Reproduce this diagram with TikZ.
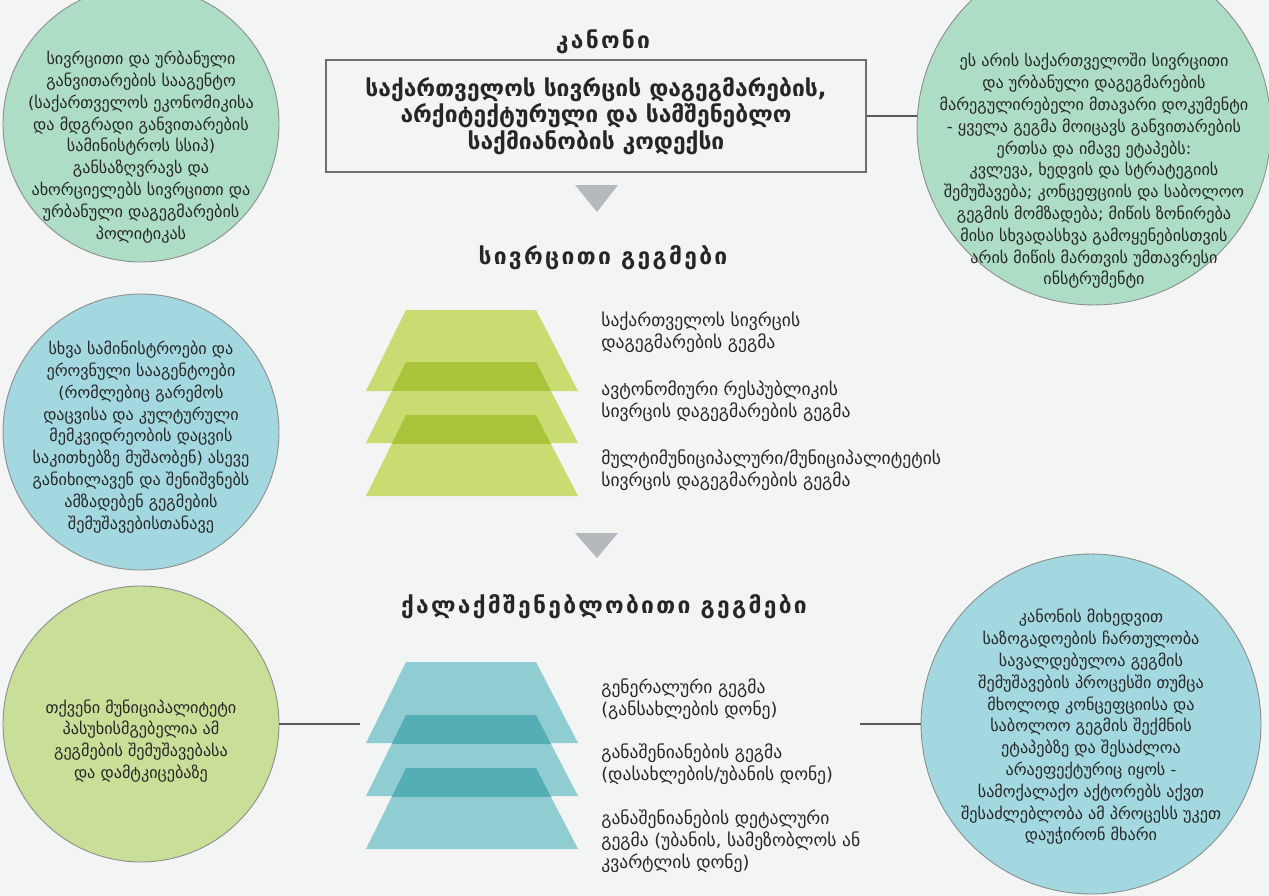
\documentclass[tikz,border=0pt]{standalone}
\usepackage{fontspec}
\setmainfont{DejaVu Sans}
\newfontfamily\headfont[LetterSpace=10]{DejaVu Sans}
\usepackage{xcolor}
\definecolor{bgpage}{HTML}{F3F5F5}
\definecolor{ink}{HTML}{262626}
\definecolor{mint}{HTML}{ADDEC5}
\definecolor{aqua}{HTML}{A3D8E0}
\definecolor{lime}{HTML}{C9DF98}
\definecolor{rimgray}{HTML}{8C8C8C}
\definecolor{boxgray}{HTML}{6E6E6E}
\definecolor{linegray}{HTML}{5A5A5A}
\definecolor{tipgray}{HTML}{B5B8BD}
\definecolor{pyrgreen}{HTML}{CADB72}
\definecolor{pyrgreendark}{HTML}{A9C33A}
\definecolor{pyrteal}{HTML}{8FCDD3}
\definecolor{pyrtealdark}{HTML}{55ADB6}

\begin{document}
\begin{tikzpicture}[x=0.02cm,y=-0.02cm]
\tikzstyle{every node}=[text=ink,inner sep=0pt];
\tikzstyle{bubble}=[draw=rimgray,line width=0.5pt,shape=circle];
\tikzstyle{note}=[font=\fontsize{9.2}{12.4}\selectfont,align=center];
\tikzstyle{head}=[font=\headfont\bfseries\fontsize{13}{15}\selectfont];
\tikzstyle{lbl}=[font=\fontsize{10}{12.4}\selectfont,align=left,anchor=west];
\tikzstyle{link}=[draw=linegray,line width=0.6pt];
\clip (0,0) rectangle (1269,896);
\fill[bgpage] (0,0) rectangle (1269,896);
% circles
\node[bubble,fill=mint,minimum size=5.52cm](agency) at (141,124) {};
\node[bubble,fill=mint,minimum size=7.08cm](codenote) at (1094,128) {};
\node[bubble,fill=aqua,minimum size=5.52cm](ministries) at (141,432) {};
\node[bubble,fill=lime,minimum size=5.52cm](munic) at (141,724) {};
\node[bubble,fill=aqua,minimum size=6.8cm](public) at (1091,724) {};
\node[note](agencytxt) at (141,147) {სივრცითი და ურბანული\\განვითარების სააგენტო\\(საქართველოს ეკონომიკისა\\და მდგრადი განვითარების\\სამინისტროს სსიპ)\\განსაზღვრავს და\\ახორციელებს სივრცითი და\\ურბანული დაგეგმარების\\პოლიტიკას};
\node[note](codenotetxt) at (1094,171) {ეს არის საქართველოში სივრცითი\\და ურბანული დაგეგმარების\\მარეგულირებელი მთავარი დოკუმენტი\\- ყველა გეგმა მოიცავს განვითარების\\ერთსა და იმავე ეტაპებს:\\კვლევა, ხედვის და სტრატეგიის\\შემუშავება; კონცეფციის და საბოლოო\\გეგმის მომზადება; მიწის ზონირება\\მისი სხვადასხვა გამოყენებისთვის\\არის მიწის მართვის უმთავრესი\\ინსტრუმენტი};
\node[note](ministriestxt) at (141,437) {სხვა სამინისტროები და\\ეროვნული სააგენტოები\\(რომლებიც გარემოს\\დაცვისა და კულტურული\\მემკვიდრეობის დაცვის\\საკითხებზე მუშაობენ) ასევე\\განიხილავენ და შენიშვნებს\\ამზადებენ გეგმების\\შემუშავებისთანავე};
\node[note](munictxt) at (141,741) {თქვენი მუნიციპალიტეტი\\პასუხისმგებელია ამ\\გეგმების შემუშავებასა\\და დამტკიცებაზე};
\node[note](publictxt) at (1091,727) {კანონის მიხედვით\\საზოგადოების ჩართულობა\\სავალდებულოა გეგმის\\შემუშავების პროცესში თუმცა\\მხოლოდ კონცეფციისა და\\საბოლოო გეგმის შექმნის\\ეტაპებზე და შესაძლოა\\არაეფექტურიც იყოს -\\სამოქალაქო აქტორებს აქვთ\\შესაძლებლობა ამ პროცესს უკეთ\\დაუჭირონ მხარი};
% law
\node[head](lawhead) at (603,42) {კანონი};
\node[draw=boxgray,line width=0.8pt,minimum width=10.8cm,minimum height=2.24cm,align=center,font=\bfseries\fontsize{13}{15}\selectfont](code) at (596,116) {საქართველოს სივრცის დაგეგმარების,\\არქიტექტურული და სამშენებლო\\საქმიანობის კოდექსი};
\draw[link](code.east)--(code.east -| codenote.west);
\fill[tipgray] (575,185)--(618,185)--(597,212)--cycle;
% spatial plans
\node[head](spatialhead) at (603,258) {სივრცითი გეგმები};
\foreach \t in {310,362,415}
  \fill[pyrgreen] (366,\t+81)--(406,\t)--(536,\t)--(578,\t+81)--cycle;
\foreach \t in {362,415}{
  \begin{scope}
  \clip (0,\t) rectangle (1269,\t+28);
  \fill[pyrgreendark] (366,\t+81)--(406,\t)--(536,\t)--(578,\t+81)--cycle;
  \end{scope}}
\node[lbl](country) at (601,332) {საქართველოს სივრცის\\დაგეგმარების გეგმა};
\node[lbl](autonomy) at (601,401) {ავტონომიური რესპუბლიკის\\სივრცის დაგეგმარების გეგმა};
\node[lbl](multimunic) at (601,470) {მულტიმუნიციპალური/მუნიციპალიტეტის\\სივრცის დაგეგმარების გეგმა};
\fill[tipgray] (575,533)--(618,533)--(597,558)--cycle;
% urban plans
\node[head](urbanhead) at (604,607) {ქალაქმშენებლობითი გეგმები};
\foreach \t in {662,715,768}
  \fill[pyrteal] (366,\t+81)--(406,\t)--(536,\t)--(578,\t+81)--cycle;
\foreach \t in {715,768}{
  \begin{scope}
  \clip (0,\t) rectangle (1269,\t+28);
  \fill[pyrtealdark] (366,\t+81)--(406,\t)--(536,\t)--(578,\t+81)--cycle;
  \end{scope}}
\node[lbl](general) at (601,699) {გენერალური გეგმა\\(განსახლების დონე)};
\node[lbl](zoning) at (601,764) {განაშენიანების გეგმა\\(დასახლების/უბანის დონე)};
\node[lbl](detailed) at (601,841) {განაშენიანების დეტალური\\გეგმა (უბანის, სამეზობლოს ან\\კვარტლის დონე)};
\coordinate(urbL) at (360,724);
\coordinate(urbR) at (860,724);
\draw[link](munic)--(urbL)(urbR)--(public);
\end{tikzpicture}
\end{document}
